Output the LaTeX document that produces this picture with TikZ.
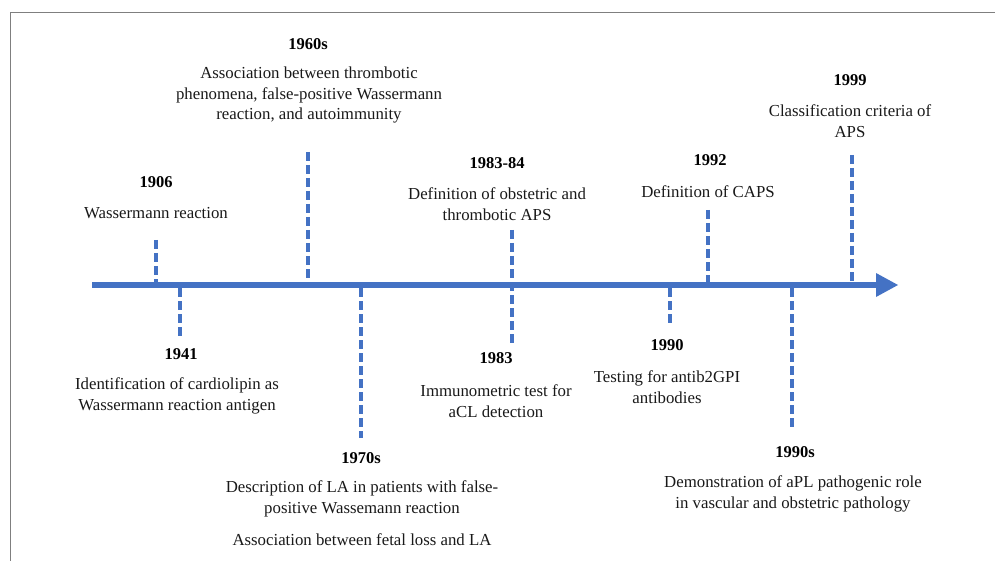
\documentclass[tikz,border=0pt]{standalone}
\usepackage{fontspec}
\setmainfont{Liberation Serif}
\definecolor{tlblue}{HTML}{4472C4}
\definecolor{framegray}{HTML}{7F7F7F}
\begin{document}
\begin{tikzpicture}[x=1pt,y=-1pt,
  txt/.style={align=center, font=\fontsize{16.8}{20.5}\selectfont, inner sep=0pt, text=black!90},
  yr/.style={font=\bfseries\fontsize{16.5}{20}\selectfont, inner sep=0pt, text=black},
  tick/.style={draw=tlblue, line width=4pt, dash pattern=on 9pt off 4pt},
  axisline/.style={draw=tlblue, line width=6pt}]
\useasboundingbox (0,0) rectangle (995,561);
% frame
\draw[framegray, line width=1pt] (10,561) -- (10,13) -- (995,13);
% axis
\coordinate (a0) at (92,285);
\coordinate (a1) at (877,285);
\draw[axisline] (a0) -- (a1);
\fill[tlblue] (876,273) -- (898,285) -- (876,297) -- cycle;
% ticks
\coordinate (t1906a) at (156,240); \coordinate (t1906b) at (156,282);
\coordinate (t1941a) at (180,288); \coordinate (t1941b) at (180,336);
\coordinate (t1960a) at (308,152); \coordinate (t1960b) at (308,282);
\coordinate (t1970a) at (361,288); \coordinate (t1970b) at (361,438);
\coordinate (t8384a) at (512,230); \coordinate (t8384b) at (512,344);
\coordinate (t1990a) at (670,288); \coordinate (t1990b) at (670,326);
\coordinate (t1992a) at (708,210); \coordinate (t1992b) at (708,282);
\coordinate (t90sa) at (792,288); \coordinate (t90sb) at (792,430);
\coordinate (t1999a) at (852,155); \coordinate (t1999b) at (852,282);
\foreach \t in {t1906,t1941,t1960,t1970,t8384,t1990,t1992,t90s,t1999}
  \draw[tick] (\t a) -- (\t b);
% labels above
\node[yr] (y1960) at (308,44) {1960s};
\node[txt] (d1960) at (309,95) {Association between thrombotic\\phenomena, false-positive Wassermann\\reaction, and autoimmunity};
\node[yr] (y1906) at (156,182) {1906};
\node[txt] (d1906) at (156,213) {Wassermann reaction};
\node[yr] (y8384) at (497,163) {1983-84};
\node[txt] (d8384) at (497,204) {Definition of obstetric and\\thrombotic APS};
\node[yr] (y1992) at (710,160) {1992};
\node[txt] (d1992) at (708,192) {Definition of CAPS};
\node[yr] (y1999) at (850,80) {1999};
\node[txt] (d1999) at (850,121) {Classification criteria of\\APS};
% labels below
\node[yr] (y1941) at (181,354) {1941};
\node[txt] (d1941) at (177,396) {Identification of cardiolipin as\\Wassermann reaction antigen};
\node[yr] (y1983) at (496,358) {1983};
\node[txt] (d1983) at (496,401) {Immunometric test for\\aCL detection};
\node[yr] (y1990) at (667,345) {1990};
\node[txt] (d1990) at (667,387) {Testing for antib2GPI\\antibodies};
\node[yr] (y1970) at (361,458) {1970s};
\node[txt] (d1970) at (362,499) {Description of LA in patients with false-\\positive Wassemann reaction};
\node[txt] (d1970b) at (362,540) {Association between fetal loss and LA};
\node[yr] (y90s) at (795,452) {1990s};
\node[txt] (d90s) at (793,494) {Demonstration of aPL pathogenic role\\in vascular and obstetric pathology};
\end{tikzpicture}
\end{document}
